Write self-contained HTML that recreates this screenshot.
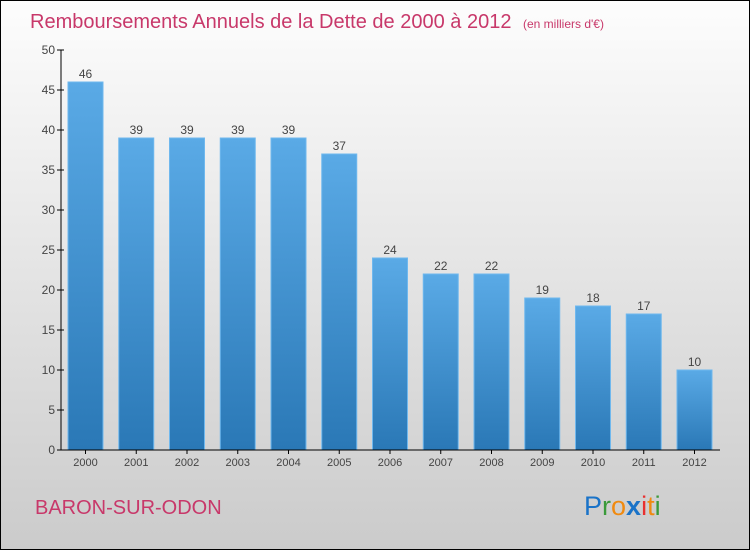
<!DOCTYPE html>
<html><head><meta charset="utf-8"><style>
body{margin:0}
svg{display:block;font-family:"Liberation Sans",sans-serif}
</style></head><body>
<svg id="chart" width="750" height="550" xmlns="http://www.w3.org/2000/svg">
<defs>
<linearGradient id="bg" x1="0" y1="0" x2="0" y2="1"><stop offset="0" stop-color="#fdfdfd"/><stop offset="1" stop-color="#cbcbcb"/></linearGradient>
<linearGradient id="bar" x1="0" y1="0" x2="0" y2="1"><stop offset="0" stop-color="#5aaae6"/><stop offset="1" stop-color="#2a78b6"/></linearGradient>
</defs>
<rect x="0.5" y="0.5" width="749" height="549" fill="url(#bg)" stroke="#000"/>
<text x="30" y="28" font-size="20" fill="#c8386a">Remboursements Annuels de la Dette de 2000 à 2012 <tspan font-size="12" dx="6">(en milliers d'€)</tspan></text>
<g id="yaxis"></g>
<g id="bars"></g>
<g id="xaxis"></g>
<text x="35" y="514" font-size="20" fill="#c8386a">BARON-SUR-ODON</text>
<text x="584" y="515" font-size="27"><tspan fill="#1a73c8">P</tspan><tspan fill="#3a9a3a">r</tspan><tspan fill="#f08a10">o</tspan><tspan fill="#1a73c8" font-weight="bold">x</tspan><tspan fill="#e83030">i</tspan><tspan fill="#f08a10">t</tspan><tspan fill="#3a9a3a">i</tspan></text>
</svg>
<script>
const years=["2000","2001","2002","2003","2004","2005","2006","2007","2008","2009","2010","2011","2012"];
const values=[46,39,39,39,39,37,24,22,22,19,18,17,10];
const yTicks=[0,5,10,15,20,25,30,35,40,45,50];
const NS="http://www.w3.org/2000/svg";
const y=v=>450-v*8;
const x=i=>85.5+i*50.75;
function mk(t,a,p){const e=document.createElementNS(NS,t);for(const k in a)e.setAttribute(k,a[k]);p.appendChild(e);return e;}
const ya=document.getElementById('yaxis'),ba=document.getElementById('bars'),xa=document.getElementById('xaxis');
mk('line',{x1:61,y1:y(50),x2:61,y2:450,stroke:'#000'},ya);
yTicks.forEach(t=>{
 mk('line',{x1:57,y1:y(t),x2:64,y2:y(t),stroke:'#000'},ya);
 const tx=mk('text',{x:55,y:y(t)+4,'text-anchor':'end','font-size':12,fill:'#444'},ya);tx.textContent=t;
 
 
});
mk('line',{x1:61,y1:450,x2:720,y2:450,stroke:'#000'},xa);
years.forEach((yr,i)=>{
 const r=mk('rect',{x:x(i)-17.5,y:y(values[i]),width:35,height:450-y(values[i]),fill:'url(#bar)',stroke:'#6fb8ee','stroke-width':1},ba);
 
 
 const v=mk('text',{x:x(i),y:y(values[i])-4,'text-anchor':'middle','font-size':12,fill:'#444'},ba);v.textContent=values[i];
 
 
 mk('line',{x1:x(i),y1:450,x2:x(i),y2:454,stroke:'#000'},xa);
 const l=mk('text',{x:x(i),y:466,'text-anchor':'middle','font-size':11,fill:'#444'},xa);l.textContent=yr;
 
 
});
</script>
</body></html>
